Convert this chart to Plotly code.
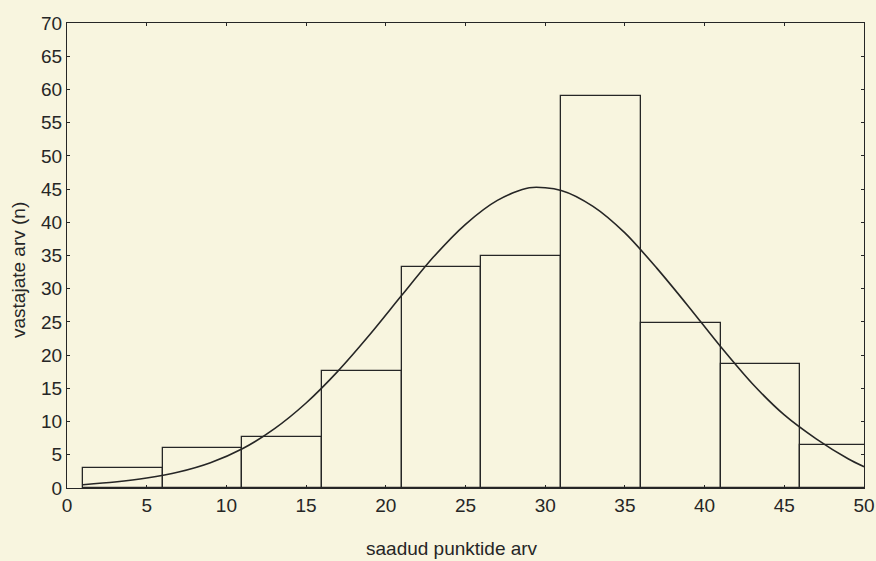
import plotly.graph_objects as go

# Histogram bins (score intervals) and counts
bin_left = [1, 6, 11, 16, 21, 26, 31, 36, 41, 46]
bin_width = 5
counts = [3, 6, 7.7, 17.6, 33.3, 35, 59, 24.8, 18.7, 6.5]

# Fitted normal curve
curve_x = [1, 3, 5, 7, 9, 11, 13, 15, 17, 19, 21, 23, 25, 27, 29, 31, 33, 35, 37, 39, 41, 43, 45, 47, 49, 50]
curve_y = [0.5, 0.9, 1.5, 2.4, 3.8, 5.9, 8.9, 12.8, 17.6, 23.1, 29.0, 34.8, 39.7, 43.3, 45.2, 44.8, 42.4, 38.4, 33.1, 27.3, 21.3, 15.7, 11.0, 7.4, 4.4, 3.2]

x_ticks = [0, 5, 10, 15, 20, 25, 30, 35, 40, 45, 50]
y_ticks = [0, 5, 10, 15, 20, 25, 30, 35, 40, 45, 50, 55, 60, 65, 70]

x_title = "saadud punktide arv"
y_title = "vastajate arv (n)"

bg = "#f8f5df"
ink = "#262626"

bar_centers = [b + bin_width / 2 for b in bin_left]

fig = go.Figure()
fig.add_trace(go.Bar(
    x=bar_centers, y=counts, width=[bin_width] * len(counts),
    marker=dict(color="rgba(0,0,0,0)", line=dict(color=ink, width=1.3)),
    showlegend=False, hoverinfo="skip",
))
fig.add_trace(go.Scatter(
    x=curve_x, y=curve_y, mode="lines",
    line=dict(color=ink, width=1.6, shape="spline", smoothing=0.8),
    showlegend=False, hoverinfo="skip",
))

fig.update_layout(
    width=876, height=561,
    paper_bgcolor=bg, plot_bgcolor=bg,
    margin=dict(l=67, r=12, t=23, b=73),
    font=dict(family="Liberation Sans, Arial, sans-serif", color=ink),
    bargap=0,
    xaxis=dict(
        range=[0, 50], tickvals=x_ticks, ticktext=[str(v) for v in x_ticks],
        ticks="inside", ticklen=3, tickcolor=ink, showgrid=False, zeroline=False,
        showline=True, linecolor=ink, linewidth=1.3, mirror="ticks",
        tickfont=dict(size=19), automargin=False,
    ),
    yaxis=dict(
        range=[0, 70], tickvals=y_ticks, ticktext=[str(v) for v in y_ticks],
        ticks="inside", ticklen=3, tickcolor=ink, showgrid=False, zeroline=False,
        showline=True, linecolor=ink, linewidth=1.3, mirror="ticks",
        tickfont=dict(size=19), automargin=False,
    ),
    annotations=[
        dict(text=x_title, xref="paper", yref="paper", x=(452 - 67) / 797, y=-(548 - 488) / 465,
             xanchor="center", yanchor="middle", showarrow=False, font=dict(size=19)),
        dict(text=y_title, xref="paper", yref="paper", x=-(67 - 18) / 797, y=(488 - 270) / 465,
             xanchor="center", yanchor="middle", showarrow=False, textangle=-90, font=dict(size=19)),
    ],
)

fig.write_html("out.html", config={"displayModeBar": False},
               post_script="document.body.style.margin='0';document.body.style.background='" + bg + "';")
